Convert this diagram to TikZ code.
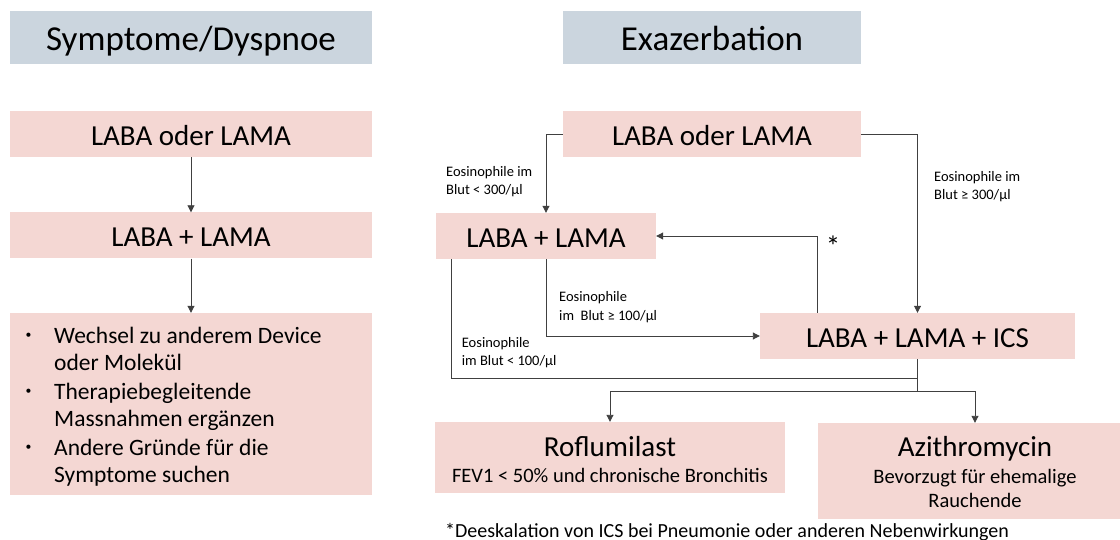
\documentclass[tikz,border=0pt]{standalone}
\usepackage{graphicx}
\usepackage{fontspec}
\setmainfont{Carlito}
\usetikzlibrary{arrows.meta}
\definecolor{hdr}{HTML}{CBD5DE}
\definecolor{pnk}{HTML}{F4D7D3}
\definecolor{ln}{HTML}{404040}
\newcommand{\smbul}{\hspace{2.5pt}\raisebox{4.5pt}{\scalebox{0.5}{•}}}
\begin{document}
\begin{tikzpicture}[x=1pt,y=-1pt,
  hbox/.style={fill=hdr, inner sep=0pt, minimum height=53pt, text height=25.9pt, text depth=0pt, font=\fontsize{35}{42}\selectfont},
  pbox/.style={fill=pnk, inner sep=0pt, minimum height=46pt, text height=22.5pt, text depth=0pt, font=\fontsize{29}{35}\selectfont},
  big/.style={anchor=base, inner sep=0pt, font=\fontsize{29}{35}\selectfont},
  sub/.style={anchor=base, inner sep=0pt, font=\fontsize{20.5}{24}\selectfont},
  lbl/.style={anchor=base west, inner sep=0pt, font=\fontsize{14.5}{18.3}\selectfont},
  conn/.style={draw=ln, line width=0.9pt},
  arr/.style={conn, -{Triangle[length=7pt,width=7pt]}}]
\clip (0,0) rectangle (1120,540);
\fill[white] (0,0) rectangle (1120,540);
% headers
\node[hbox, minimum width=362pt] (h1) at (191,37.5) {Symptome/Dyspnoe};
\node[hbox, minimum width=298pt] (h2) at (712,37.5) {Exazerbation};
% left column
\node[pbox, minimum width=362pt] (l1) at (191,134) {LABA oder LAMA};
\node[pbox, minimum width=362pt] (l2) at (191,235.5) {LABA + LAMA};
\node[pbox, minimum width=362pt, minimum height=182pt] (l3) at (191,404) {};
\node[anchor=base west, inner sep=0pt, font=\fontsize{23.5}{28}\selectfont] (l3t) at (23,343)
  {\begin{tabular}[t]{@{}p{31pt}@{}l@{}}\smbul&Wechsel zu anderem Device\\&oder Molekül\\\smbul&Therapiebegleitende\\&Massnahmen ergänzen\\\smbul&Andere Gründe für die\\&Symptome suchen\end{tabular}};
% right column
\node[pbox, minimum width=298pt] (r1) at (712,134) {LABA oder LAMA};
\node[pbox, minimum width=220pt] (r2) at (546,236) {LABA + LAMA};
\node[pbox, minimum width=315pt] (r3) at (917.5,336) {LABA + LAMA + ICS};
\node[pbox, minimum width=350pt, minimum height=71pt] (rof) at (610,457.5) {};
\node[pbox, minimum width=314pt, minimum height=96pt] (azi) at (975,471) {};
\node[big] (rofa) at (610,456) {Roflumilast};
\node[sub] (rofb) at (610,482) {FEV1 < 50\% und chronische Bronchitis};
\node[big] (azia) at (975,456) {Azithromycin};
\node[sub] (azib) at (975,483) {Bevorzugt für ehemalige};
\node[sub] (azic) at (975,507) {Rauchende};
% labels
\node[lbl] (e1) at (446,176.7) {\begin{tabular}[t]{@{}l@{}}Eosinophile im\\Blut < 300/µl\end{tabular}};
\node[lbl] (e2) at (934,181.5) {\begin{tabular}[t]{@{}l@{}}Eosinophile im\\Blut ≥ 300/µl\end{tabular}};
\node[lbl] (e3) at (559,301.7) {\begin{tabular}[t]{@{}l@{}}Eosinophile\\im\ \ Blut ≥ 100/µl\end{tabular}};
\node[lbl] (e4) at (461.7,347.3) {\begin{tabular}[t]{@{}l@{}}Eosinophile\\im Blut < 100/µl\end{tabular}};
\node[inner sep=0pt, font=\fontsize{29}{35}\selectfont] (star) at (833,246) {*};
\node[anchor=base west, inner sep=0pt, font=\fontsize{20}{24}\selectfont] (fn) at (445,537) {*Deeskalation von ICS bei Pneumonie oder anderen Nebenwirkungen};
% connectors
\draw[arr] (l1) -- (l2);
\draw[arr] (l2) -- (l3);
\draw[arr] (r1.west) -| (r2.north);
\draw[arr] (r1.east) -| (r3.north);
\draw[arr] (r2.south) |- (r3.west);
\coordinate (j1) at (917.5,378);
\coordinate (j2) at (917.5,391);
\draw[conn] ([xshift=16pt]r2.south west) |- (j1);
\draw[conn] (r3.south) -- (j2);
\draw[arr] (j2) -| (rof.north);
\draw[arr] (j2) -| (azi.north);
\draw[arr] ([xshift=58pt]r3.north west) |- (r2.east);
\end{tikzpicture}
\end{document}
